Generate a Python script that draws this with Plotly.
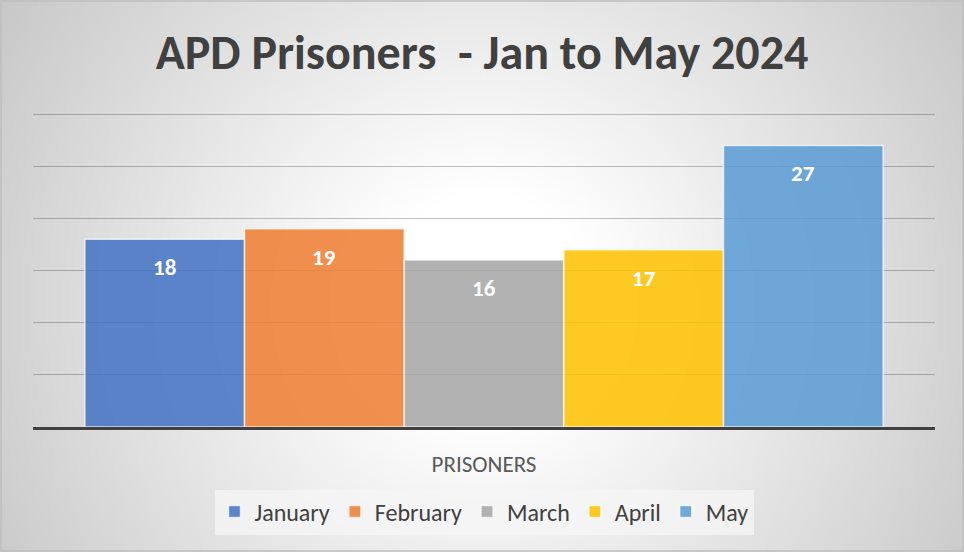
import base64, struct, zlib, math
import plotly.graph_objects as go

# ---- data ----
category = ["PRISONERS"]
months = ["January", "February", "March", "April", "May"]
values = [18, 19, 16, 17, 27]
colors = ["rgba(68,114,196,0.86)", "rgba(237,125,49,0.86)", "rgba(165,165,165,0.86)",
          "rgba(255,192,0,0.86)", "rgba(91,155,213,0.86)"]
title_text = "APD Prisoners\u00a0 - Jan to May 2024"

W, H = 964, 552
YMAX = 30.2
L, R, T, B = 33, 29, 112, 125
PW, PH = W - L - R, H - T - B
BARGAP = 0.115

FONT = "Carlito, Lato, 'Open Sans', sans-serif"

# ---- radial gradient background as a PNG ----
def gradient_png(w, h):
    cx, cy = w * 0.5, h * 0.55
    rows = []
    for j in range(h):
        row = bytearray([0])
        for i in range(w):
            d = math.hypot((i - cx) * 4, (j - cy) * 4)
            v = 255 - 0.12 * max(0.0, d - 115)
            row.append(int(max(190, min(255, v))))
        rows.append(bytes(row))
    raw = b"".join(rows)
    def chunk(t, data):
        c = struct.pack(">I", len(data)) + t + data
        return c + struct.pack(">I", zlib.crc32(t + data) & 0xffffffff)
    png = b"\x89PNG\r\n\x1a\n"
    png += chunk(b"IHDR", struct.pack(">IIBBBBB", w, h, 8, 0, 0, 0, 0))
    png += chunk(b"IDAT", zlib.compress(raw, 9))
    png += chunk(b"IEND", b"")
    return "data:image/png;base64," + base64.b64encode(png).decode()

bg = gradient_png(W // 4, H // 4)

fig = go.Figure()
for m, v, c in zip(months, values, colors):
    fig.add_trace(go.Bar(
        x=category, y=[v], name=m,
        marker=dict(color=c, line=dict(color="rgba(255,255,255,0.7)", width=1.5)),
        hoverinfo="skip",
    ))

# data labels: inside each bar near its top
n = len(months)
slot = (1 - BARGAP) / n
annotations = []
for i, v in enumerate(values):
    annotations.append(dict(
        x=(i - (n - 1) / 2) * slot, y=v, xref="x", yref="y",
        text=str(v), showarrow=False, yanchor="middle", yshift=-28,
        font=dict(family=FONT, size=23, color="white", weight="bold"),
    ))

fig.update_layout(
    width=W, height=H,
    margin=dict(l=L, r=R, t=T, b=B),
    paper_bgcolor="#e0e0e0",
    plot_bgcolor="rgba(0,0,0,0)",
    barmode="group", bargap=BARGAP, bargroupgap=0.0,
    font=dict(family=FONT, color="#595959"),
    title=dict(text=title_text, x=0.5, xanchor="center", y=1 - 52 / H, yanchor="middle",
               font=dict(family=FONT, size=48, color="#404040", weight="bold")),
    xaxis=dict(showline=True, linecolor="#404040", linewidth=3, ticks="",
               tickfont=dict(size=23, color="#595959"), ticklabelstandoff=14,
               showgrid=False, fixedrange=True),
    yaxis=dict(range=[0, YMAX], tick0=0, dtick=5, showticklabels=False, showgrid=True,
               gridcolor="rgba(0,0,0,0.24)", gridwidth=1, zeroline=False, fixedrange=True),
    legend=dict(orientation="h", x=0.5, xanchor="center", y=-(512 - 427) / PH, yanchor="middle",
                bgcolor="rgba(245,245,245,0.75)", font=dict(size=24, color="#404040"),
                itemclick=False, itemdoubleclick=False),
    showlegend=True,
    annotations=annotations,
    images=[dict(source=bg, xref="paper", yref="paper", x=-L / PW, y=1 + T / PH,
                 sizex=W / PW, sizey=H / PH, sizing="stretch", layer="below",
                 xanchor="left", yanchor="top")],
    shapes=[dict(type="rect", xref="paper", yref="paper",
                 x0=-L / PW + 1 / PW, x1=1 + R / PW - 1 / PW,
                 y0=-B / PH + 1 / PH, y1=1 + T / PH - 1 / PH,
                 line=dict(color="#bfbfbf", width=1.5), layer="above")],
)

fig.write_html("out.html", config={"displayModeBar": False},
               post_script="document.body.style.margin='0';document.body.style.overflow='hidden';")
